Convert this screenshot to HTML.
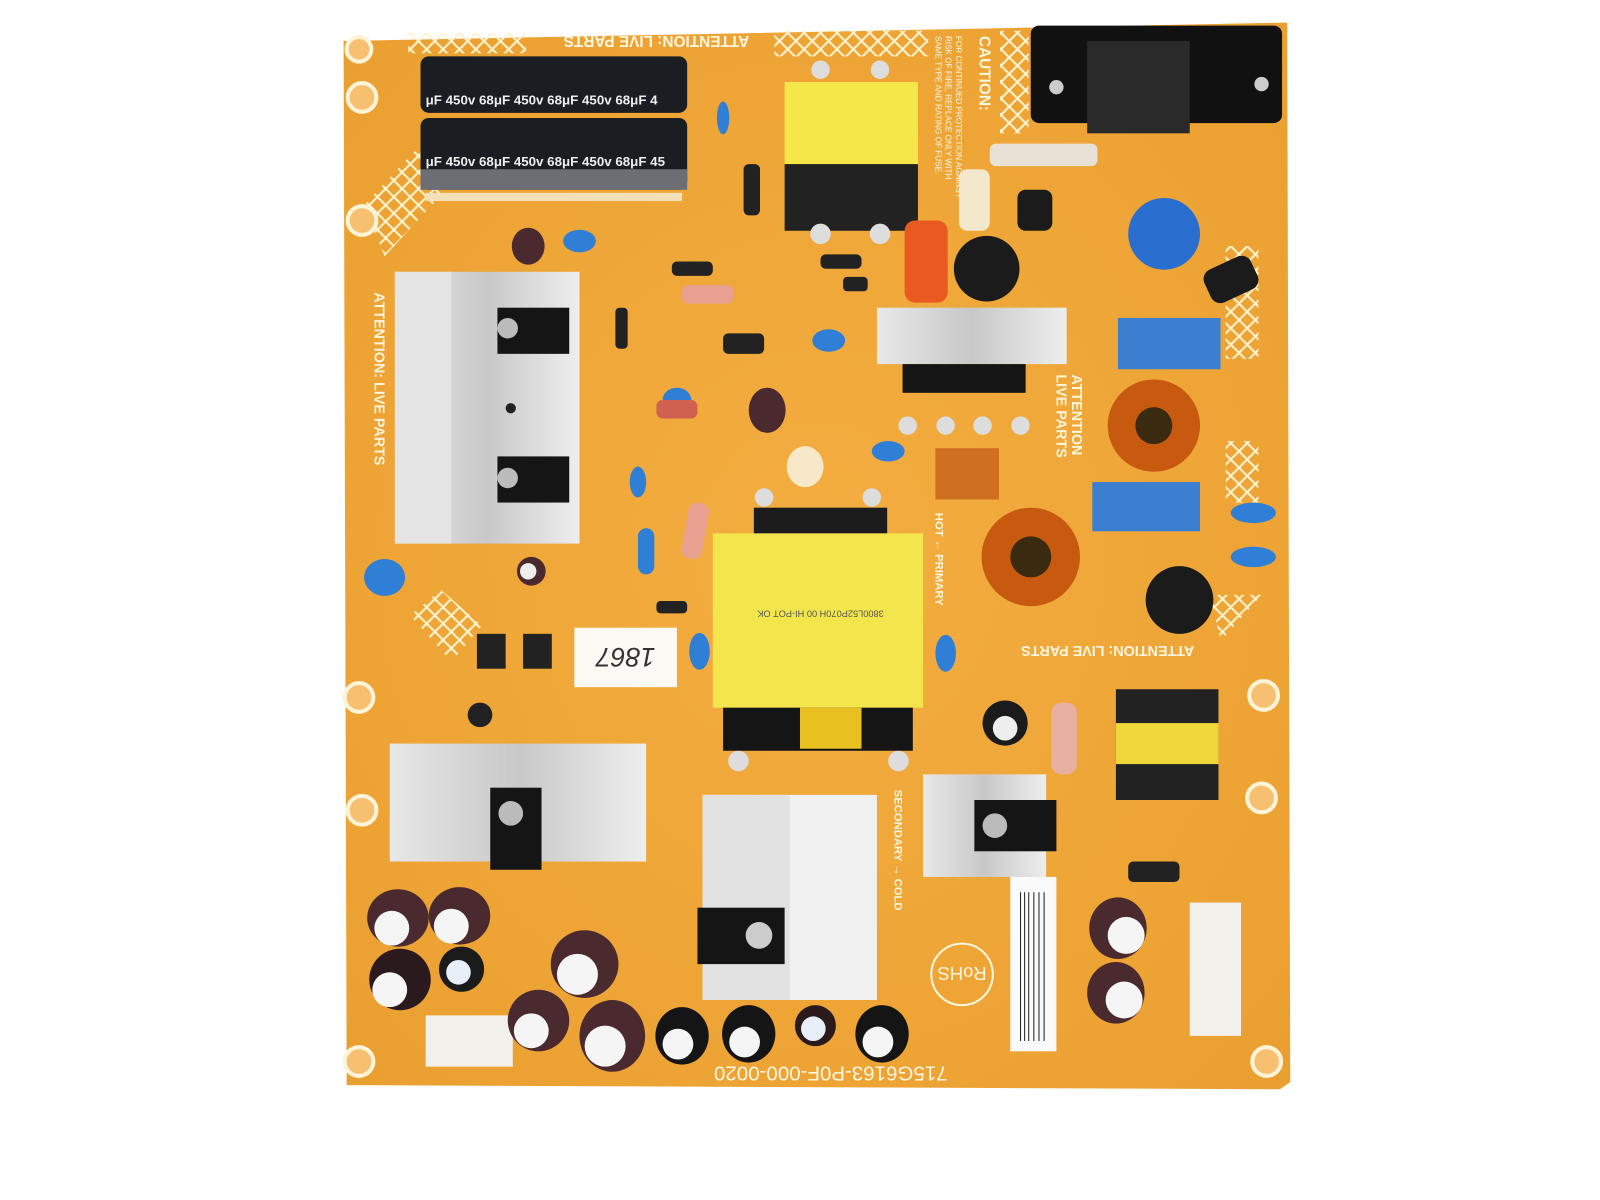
<!DOCTYPE html>
<html><head><meta charset="utf-8"><style>
html,body{margin:0;padding:0;background:#fff;}
svg{display:block;font-family:"Liberation Sans",sans-serif;}
</style></head><body>
<svg width="1600" height="1200" viewBox="0 0 1560 1170" preserveAspectRatio="none" xmlns="http://www.w3.org/2000/svg">
<defs>
<pattern id="hatch" width="16" height="16" patternUnits="userSpaceOnUse">
<path d="M0 0L16 16M16 0L0 16" stroke="#fff3d0" stroke-width="2"/>
</pattern>
<linearGradient id="hs" x1="0" x2="1"><stop offset="0" stop-color="#e8e8e8"/><stop offset="0.5" stop-color="#c8c8c8"/><stop offset="1" stop-color="#eeeeee"/></linearGradient>
<radialGradient id="brd" cx="0.5" cy="0.5" r="0.7"><stop offset="0" stop-color="#f4ad40"/><stop offset="1" stop-color="#eaa030"/></radialGradient>
</defs>
<rect width="1560" height="1170" fill="#fff"/>
<!-- board -->
<path d="M335 40 L1255 22 L1258 1055 L1248 1062 L338 1058 Z" fill="url(#brd)"/>
<!-- hatch areas -->
<rect x="398" y="32" width="115" height="20" fill="url(#hatch)"/>
<rect x="755" y="30" width="150" height="25" fill="url(#hatch)"/>
<rect x="975" y="30" width="28" height="100" fill="url(#hatch)"/>
<path d="M355 200 L430 120 L430 190 L375 250 Z" fill="url(#hatch)"/>
<rect x="1195" y="240" width="32" height="110" fill="url(#hatch)"/>
<rect x="1195" y="430" width="32" height="60" fill="url(#hatch)"/>
<path d="M400 600 L430 575 L470 610 L440 645 Z" fill="url(#hatch)"/>
<path d="M1180 580 L1230 580 L1190 625 Z" fill="url(#hatch)"/>
<!-- holes -->
<g fill="#f6c070" stroke="#fff3d8" stroke-width="4">
<circle cx="350" cy="48" r="12"/><circle cx="353" cy="95" r="14"/><circle cx="353" cy="215" r="14"/>
<circle cx="350" cy="680" r="14"/><circle cx="353" cy="790" r="14"/><circle cx="350" cy="1035" r="14"/>
<circle cx="1232" cy="678" r="14"/><circle cx="1230" cy="778" r="14"/><circle cx="1235" cy="1035" r="14"/>
</g>
<!-- text labels -->
<text x="640" y="45" font-size="15" fill="#fff6e0" text-anchor="middle" transform="rotate(180 640 40)" font-weight="bold">ATTENTION: LIVE PARTS</text>
<text x="955" y="35" font-size="15" fill="#fff6e0" font-weight="bold" transform="rotate(90 955 35)">CAUTION:</text>
<text x="932" y="35" font-size="8" fill="#fff6e0" transform="rotate(90 932 35)">FOR CONTINUED PROTECTION AGAINST</text>
<text x="922" y="35" font-size="8" fill="#fff6e0" transform="rotate(90 922 35)">RISK OF FIRE, REPLACE ONLY WITH</text>
<text x="912" y="35" font-size="8" fill="#fff6e0" transform="rotate(90 912 35)">SAME TYPE AND RATING OF FUSE.</text>
<text x="365" y="285" font-size="14" fill="#fff6e0" font-weight="bold" transform="rotate(90 365 285)">ATTENTION: LIVE PARTS</text>
<text x="1045" y="365" font-size="14" fill="#fff6e0" font-weight="bold" transform="rotate(90 1045 365)">ATTENTION</text>
<text x="1030" y="365" font-size="14" fill="#fff6e0" font-weight="bold" transform="rotate(90 1030 365)">LIVE PARTS</text>
<text x="1080" y="640" font-size="14" fill="#fff6e0" font-weight="bold" text-anchor="middle" transform="rotate(180 1080 635)">ATTENTION: LIVE PARTS</text>
<text x="810" y="1050" font-size="20" fill="#fff6e0" text-anchor="middle" transform="rotate(180 810 1045)">715G6163-P0F-000-0020</text>
<text x="912" y="500" font-size="11" fill="#fff6e0" font-weight="bold" transform="rotate(90 912 500)">HOT ← PRIMARY</text>
<text x="872" y="770" font-size="11" fill="#fff6e0" font-weight="bold" transform="rotate(90 872 770)">SECONDARY → COLD</text>
<circle cx="938" cy="950" r="30" fill="none" stroke="#fff6e0" stroke-width="2"/>
<text x="938" y="957" font-size="18" fill="#fff6e0" text-anchor="middle" transform="rotate(180 938 950)">RoHS</text>
<!-- bulk caps top -->
<rect x="410" y="55" width="260" height="55" rx="8" fill="#1a1d22"/>
<rect x="410" y="115" width="260" height="70" rx="8" fill="#1a1d22"/>
<rect x="410" y="165" width="260" height="20" fill="#6b6e73"/>
<g font-size="13" fill="#eee" font-weight="bold"><text x="415" y="102">μF 450v  68μF 450v  68μF 450v  68μF 4</text><text x="415" y="162">μF 450v  68μF 450v  68μF 450v  68μF 45</text></g>
<rect x="415" y="188" width="250" height="8" fill="#f4e0b8"/>
<!-- top transformer -->
<rect x="765" y="80" width="130" height="80" fill="#f5e64a"/>
<rect x="765" y="160" width="130" height="65" fill="#222"/>
<circle cx="800" cy="68" r="9" fill="#ddd"/><circle cx="858" cy="68" r="9" fill="#ddd"/>
<circle cx="800" cy="228" r="10" fill="#ddd"/><circle cx="858" cy="228" r="10" fill="#ddd"/>
<!-- AC connector -->
<rect x="1005" y="25" width="245" height="95" rx="8" fill="#111"/>
<rect x="1060" y="40" width="100" height="90" fill="#2a2a2a"/>
<circle cx="1030" cy="85" r="7" fill="#ccc"/><circle cx="1230" cy="82" r="7" fill="#ccc"/>
<!-- fuse -->
<rect x="965" y="140" width="105" height="22" rx="6" fill="#e8e2d6"/>
<!-- blue varistor -->
<circle cx="1135" cy="228" r="35" fill="#2a6fd0"/>
<!-- orange cap -->
<rect x="882" y="215" width="42" height="80" rx="10" fill="#e85a20"/>
<circle cx="962" cy="262" r="32" fill="#1b1b1b"/>
<rect x="935" y="165" width="30" height="60" rx="8" fill="#f4e8cc"/>
<rect x="992" y="185" width="34" height="40" rx="8" fill="#1b1b1b"/>
<rect x="1175" y="255" width="50" height="35" rx="10" fill="#1b1b1b" transform="rotate(-25 1200 272)"/>
<!-- left heatsink -->
<rect x="385" y="265" width="180" height="265" fill="url(#hs)"/>
<rect x="385" y="265" width="55" height="265" fill="#e4e4e4"/>
<rect x="485" y="300" width="70" height="45" fill="#151515"/><circle cx="495" cy="320" r="10" fill="#bbb"/>
<rect x="485" y="445" width="70" height="45" fill="#151515"/><circle cx="495" cy="466" r="10" fill="#bbb"/>
<circle cx="498" cy="398" r="5" fill="#222"/>
<!-- middle heatsink -->
<rect x="855" y="300" width="185" height="55" fill="url(#hs)"/>
<rect x="880" y="355" width="120" height="28" fill="#151515"/>
<g fill="#ddd"><circle cx="885" cy="415" r="9"/><circle cx="922" cy="415" r="9"/><circle cx="958" cy="415" r="9"/><circle cx="995" cy="415" r="9"/></g>
<!-- X caps -->
<rect x="1090" y="310" width="100" height="50" fill="#3b7fd0"/>
<rect x="1065" y="470" width="105" height="48" fill="#3b7fd0"/>
<!-- toroids -->
<circle cx="1125" cy="415" r="45" fill="#c85a10"/><circle cx="1125" cy="415" r="18" fill="#3a2a10"/>
<circle cx="1005" cy="543" r="48" fill="#c85a10"/><circle cx="1005" cy="543" r="20" fill="#3a2a10"/>
<rect x="912" y="437" width="62" height="50" fill="#cf7020"/>
<circle cx="1150" cy="585" r="33" fill="#1b1b1b"/>
<!-- main transformer -->
<rect x="735" y="495" width="130" height="28" fill="#1c1c1c"/>
<rect x="695" y="520" width="205" height="170" fill="#f3e64c"/>
<text x="800" y="605" font-size="9" fill="#555" text-anchor="middle" transform="rotate(180 800 600)">3800L52P070H  00  HI-POT  OK</text>
<rect x="705" y="690" width="185" height="42" fill="#151515"/>
<rect x="780" y="690" width="60" height="40" fill="#e8c020"/>
<circle cx="720" cy="742" r="10" fill="#ddd"/><circle cx="876" cy="742" r="10" fill="#ddd"/>
<circle cx="745" cy="485" r="9" fill="#ddd"/><circle cx="850" cy="485" r="9" fill="#ddd"/>
<ellipse cx="785" cy="455" rx="18" ry="20" fill="#f6e8c8"/>
<!-- label -->
<rect x="560" y="612" width="100" height="58" fill="#fbf9f4"/>
<text x="610" y="650" font-size="26" fill="#333" text-anchor="middle" transform="rotate(180 610 641)" font-style="italic">1867</text>
<!-- bottom left heatsink -->
<rect x="380" y="725" width="250" height="115" fill="url(#hs)"/>
<rect x="478" y="768" width="50" height="80" fill="#151515"/><circle cx="498" cy="793" r="12" fill="#bbb"/>
<!-- bottom middle heatsink -->
<rect x="685" y="775" width="170" height="200" fill="#f0f0f0"/>
<rect x="685" y="775" width="85" height="200" fill="#e2e2e2"/>
<rect x="680" y="885" width="85" height="55" fill="#151515"/><circle cx="740" cy="912" r="13" fill="#ccc"/>
<!-- right heatsink -->
<rect x="900" y="755" width="120" height="100" fill="url(#hs)"/>
<rect x="950" y="780" width="80" height="50" fill="#151515"/><circle cx="970" cy="805" r="12" fill="#bbb"/>
<!-- small transformer -->
<rect x="1088" y="672" width="100" height="108" fill="#222"/>
<rect x="1088" y="705" width="100" height="40" fill="#efd63a"/>
<circle cx="980" cy="705" r="22" fill="#1b1b1b"/><circle cx="980" cy="710" r="12" fill="#eee"/>
<rect x="1025" y="685" width="25" height="70" rx="10" fill="#e8b0a0"/>
<!-- barcode -->
<rect x="985" y="855" width="45" height="170" fill="#fafafa"/>
<g stroke="#222" stroke-width="1"><path d="M995 870V1015M999 870V1015M1003 870V1015M1008 870V1015M1013 870V1015M1018 870V1015"/></g>
<!-- connectors -->
<rect x="1160" y="880" width="50" height="130" fill="#f2f0ea"/>
<rect x="415" y="990" width="85" height="50" fill="#f2f0ea"/>
<!-- electrolytic caps -->
<g>
<ellipse cx="1090" cy="905" rx="28" ry="30" fill="#4a2a2e"/><circle cx="1098" cy="912" r="18" fill="#f5f5f5"/>
<ellipse cx="1088" cy="968" rx="28" ry="30" fill="#4a2a2e"/><circle cx="1096" cy="975" r="18" fill="#f5f5f5"/>
<ellipse cx="388" cy="895" rx="30" ry="28" fill="#4a2a2e"/><circle cx="382" cy="905" r="17" fill="#f5f5f5"/>
<ellipse cx="448" cy="893" rx="30" ry="28" fill="#4a2a2e"/><circle cx="440" cy="903" r="17" fill="#f5f5f5"/>
<ellipse cx="390" cy="955" rx="30" ry="30" fill="#2a1a1e"/><circle cx="380" cy="965" r="17" fill="#f5f5f5"/>
<ellipse cx="450" cy="945" rx="22" ry="22" fill="#1b1b1b"/><circle cx="447" cy="948" r="12" fill="#e8eef8"/>
<ellipse cx="570" cy="940" rx="33" ry="33" fill="#4a2a2e"/><circle cx="563" cy="950" r="20" fill="#f5f5f5"/>
<ellipse cx="525" cy="995" rx="30" ry="30" fill="#4a2a2e"/><circle cx="518" cy="1005" r="17" fill="#f5f5f5"/>
<ellipse cx="597" cy="1010" rx="32" ry="35" fill="#4a2a2e"/><circle cx="590" cy="1020" r="20" fill="#f5f5f5"/>
<ellipse cx="665" cy="1010" rx="26" ry="28" fill="#151515"/><circle cx="661" cy="1018" r="15" fill="#f5f5f5"/>
<ellipse cx="730" cy="1008" rx="26" ry="28" fill="#151515"/><circle cx="726" cy="1016" r="15" fill="#f5f5f5"/>
<ellipse cx="795" cy="1000" rx="20" ry="20" fill="#2a1a1a"/><circle cx="793" cy="1003" r="12" fill="#e8eef8"/>
<ellipse cx="860" cy="1008" rx="26" ry="28" fill="#151515"/><circle cx="856" cy="1016" r="15" fill="#f5f5f5"/>
<ellipse cx="515" cy="240" rx="16" ry="18" fill="#4a2a2e"/>
<ellipse cx="518" cy="557" rx="14" ry="14" fill="#4a2a2e"/><circle cx="515" cy="557" r="8" fill="#eee"/>
<ellipse cx="748" cy="400" rx="18" ry="22" fill="#4a2a2e"/>
</g>
<!-- small blue caps -->
<g fill="#2f7fd6">
<ellipse cx="565" cy="235" rx="16" ry="11"/><ellipse cx="808" cy="332" rx="16" ry="11"/><ellipse cx="660" cy="390" rx="14" ry="12"/>
<ellipse cx="866" cy="440" rx="16" ry="10"/><ellipse cx="375" cy="563" rx="20" ry="18"/><ellipse cx="622" cy="470" rx="8" ry="15"/>
<rect x="622" y="515" width="16" height="45" rx="8"/><ellipse cx="682" cy="635" rx="10" ry="18"/><ellipse cx="922" cy="637" rx="10" ry="18"/>
<ellipse cx="1222" cy="500" rx="22" ry="10"/><ellipse cx="1222" cy="543" rx="22" ry="10"/><ellipse cx="705" cy="115" rx="6" ry="16"/>
</g>
<!-- small parts -->
<g fill="#222">
<rect x="725" y="160" width="16" height="50" rx="5"/><rect x="655" y="255" width="40" height="14" rx="5"/>
<rect x="705" y="325" width="40" height="20" rx="5"/><rect x="800" y="248" width="40" height="14" rx="5"/>
<rect x="822" y="270" width="24" height="14" rx="4"/><rect x="465" y="618" width="28" height="34"/><rect x="510" y="618" width="28" height="34"/>
<rect x="1100" y="840" width="50" height="20" rx="5"/><rect x="640" y="586" width="30" height="12" rx="4"/>
<circle cx="468" cy="697" r="12"/><rect x="600" y="300" width="12" height="40" rx="4"/>
</g>
<rect x="665" y="278" width="50" height="18" rx="6" fill="#e8a090"/>
<rect x="640" y="390" width="40" height="18" rx="6" fill="#d06050"/>
<rect x="668" y="490" width="20" height="55" rx="8" fill="#e8a090" transform="rotate(10 678 517)"/>
</svg>
</body></html>
